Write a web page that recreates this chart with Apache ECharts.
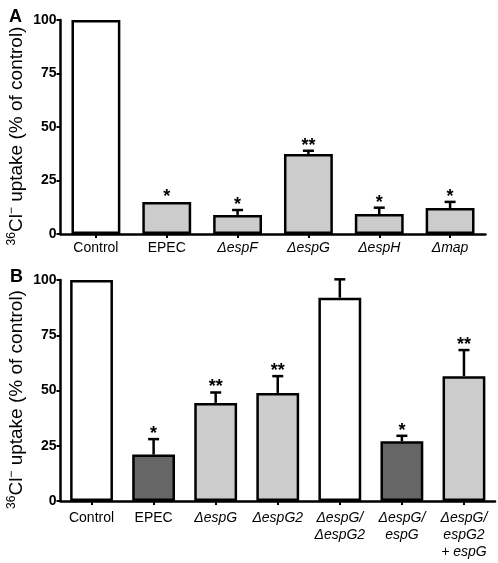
<!DOCTYPE html>
<html><head><meta charset="utf-8">
<script src="https://cdn.jsdelivr.net/npm/echarts@6/dist/echarts.min.js"></script>
<style>html,body{margin:0;padding:0;background:#fff}#c{width:498px;height:563px}</style>
</head><body><div id="c"></div>
<script>
// Panel A
const catsA = ['Control', 'EPEC', 'ΔespF', 'ΔespG', 'ΔespH', 'Δmap'];
const valsA = [100, 15, 8.9, 37.4, 9.3, 12.1];
const errA = [0, 0, 2.3, 1.5, 3.0, 2.9];
const starsA = ['', '*', '*', '**', '*', '*'];
const colorsA = ['white', 'light', 'light', 'light', 'light', 'light'];
// Panel B
const catsB = ['Control', 'EPEC', 'ΔespG', 'ΔespG2', 'ΔespG/\nΔespG2', 'ΔespG/\nespG', 'ΔespG/\nespG2\n+ espG'];
const valsB = [100, 21, 44.4, 48.9, 92, 27, 56.5];
const errB = [0, 7, 4.7, 7.6, 8.3, 2.5, 11.8];
const starsB = ['', '*', '**', '**', '', '*', '**'];
const colorsB = ['white', 'dark', 'light', 'light', 'white', 'dark', 'light'];
const yTicks = [0, 25, 50, 75, 100];

const fill = {white: '#ffffff', light: '#cccccc', dark: '#666666'};
const FONT = 'Liberation Sans, Arial, Helvetica, sans-serif';

function catFormatter(v) {
  return v.split('\n').map(l => l.indexOf('Δ') >= 0 || l.indexOf('esp') >= 0 ? '{it|' + l + '}' : '{n|' + l + '}').join('\n');
}

function xAxisCfg(cats, gi, margin) {
  return {
    type: 'category', gridIndex: gi, data: cats,
    axisLine: {lineStyle: {color: '#000', width: 2.5}},
    axisTick: {show: true, alignWithLabel: true, length: 4, lineStyle: {color: '#000', width: 2}},
    axisLabel: {
      interval: 0, margin: margin, color: '#000', formatter: catFormatter,
      rich: {
        n: {fontFamily: FONT, fontSize: 14, lineHeight: 17, color: '#000'},
        it: {fontFamily: FONT, fontSize: 14, lineHeight: 17, fontStyle: 'italic', color: '#000'}
      }
    }
  };
}
function yAxisCfg(gi) {
  return {
    type: 'value', gridIndex: gi, min: 0, max: 100, interval: 25,
    axisLine: {show: true, lineStyle: {color: '#000', width: 2.5}},
    axisTick: {show: true, length: 4, lineStyle: {color: '#000', width: 2}},
    splitLine: {show: false},
    axisLabel: {color: '#000', fontFamily: FONT, fontSize: 14, fontWeight: 'bold', margin: 4,
      formatter: v => yTicks.indexOf(v) >= 0 ? String(v) : ''},
    name: '{sup|36}{m|Cl}{sup|−}{m| uptake (% of control)}',
    nameLocation: 'middle', nameGap: 33, nameRotate: 90, nameMoveOverlap: false,
    nameTextStyle: {
      padding: [0, 18, 0, 0],
      rich: {
        m: {fontFamily: FONT, fontSize: 19, color: '#000', lineHeight: 22},
        sup: {fontFamily: FONT, fontSize: 12, color: '#000', verticalAlign: 'top', lineHeight: 22}
      }
    }
  };
}

function barSeries(vals, colors, gi) {
  return {
    type: 'bar', xAxisIndex: gi, yAxisIndex: gi, barWidth: '69%',
    data: vals.map((v, i) => ({value: v, itemStyle: {color: fill[colors[i]], borderColor: '#000', borderWidth: 2.5}})),
    z: 2
  };
}
function errSeries(vals, errs, stars, gi) {
  return {
    type: 'custom', xAxisIndex: gi, yAxisIndex: gi, z: 3,
    data: vals.map((v, i) => [i, v, errs[i], stars[i]]),
    renderItem: function (params, api) {
      const i = api.value(0), v = api.value(1), e = api.value(2);
      const s = stars[i];
      const base = api.coord([i, v]);
      const top = api.coord([i, v + e]);
      const children = [];
      if (e > 0) {
        children.push({type: 'line', shape: {x1: base[0], y1: base[1], x2: top[0], y2: top[1]}, style: {stroke: '#000', lineWidth: 2.5}});
        children.push({type: 'line', shape: {x1: top[0] - 5.5, y1: top[1], x2: top[0] + 5.5, y2: top[1]}, style: {stroke: '#000', lineWidth: 2.5}});
      }
      if (s) {
        children.push({type: 'text', x: top[0], y: top[1] - 5, style: {text: s, fontFamily: FONT, fontSize: 18, fontWeight: 'bold', fill: '#000', align: 'center', verticalAlign: 'middle'}});
      }
      return {type: 'group', children: children};
    }
  };
}

const chart = echarts.init(document.getElementById('c'), null, {renderer: 'canvas'});
chart.setOption({
  animation: false,
  backgroundColor: '#fff',
  textStyle: {fontFamily: FONT},
  title: [
    {text: 'A', left: 4, top: 3, textStyle: {fontFamily: FONT, fontSize: 18, fontWeight: 'bold', color: '#000'}},
    {text: 'B', left: 5, top: 263, textStyle: {fontFamily: FONT, fontSize: 18, fontWeight: 'bold', color: '#000'}}
  ],
  grid: [
    {left: 60.5, top: 20, width: 425, height: 214, outerBoundsMode: 'none', containLabel: false},
    {left: 60.5, top: 280, width: 434.5, height: 221, outerBoundsMode: 'none', containLabel: false}
  ],
  xAxis: [xAxisCfg(catsA, 0, 6), xAxisCfg(catsB, 1, 9)],
  yAxis: [yAxisCfg(0), yAxisCfg(1)],
  series: [
    barSeries(valsA, colorsA, 0), errSeries(valsA, errA, starsA, 0),
    barSeries(valsB, colorsB, 1), errSeries(valsB, errB, starsB, 1)
  ]
});
</script></body></html>
